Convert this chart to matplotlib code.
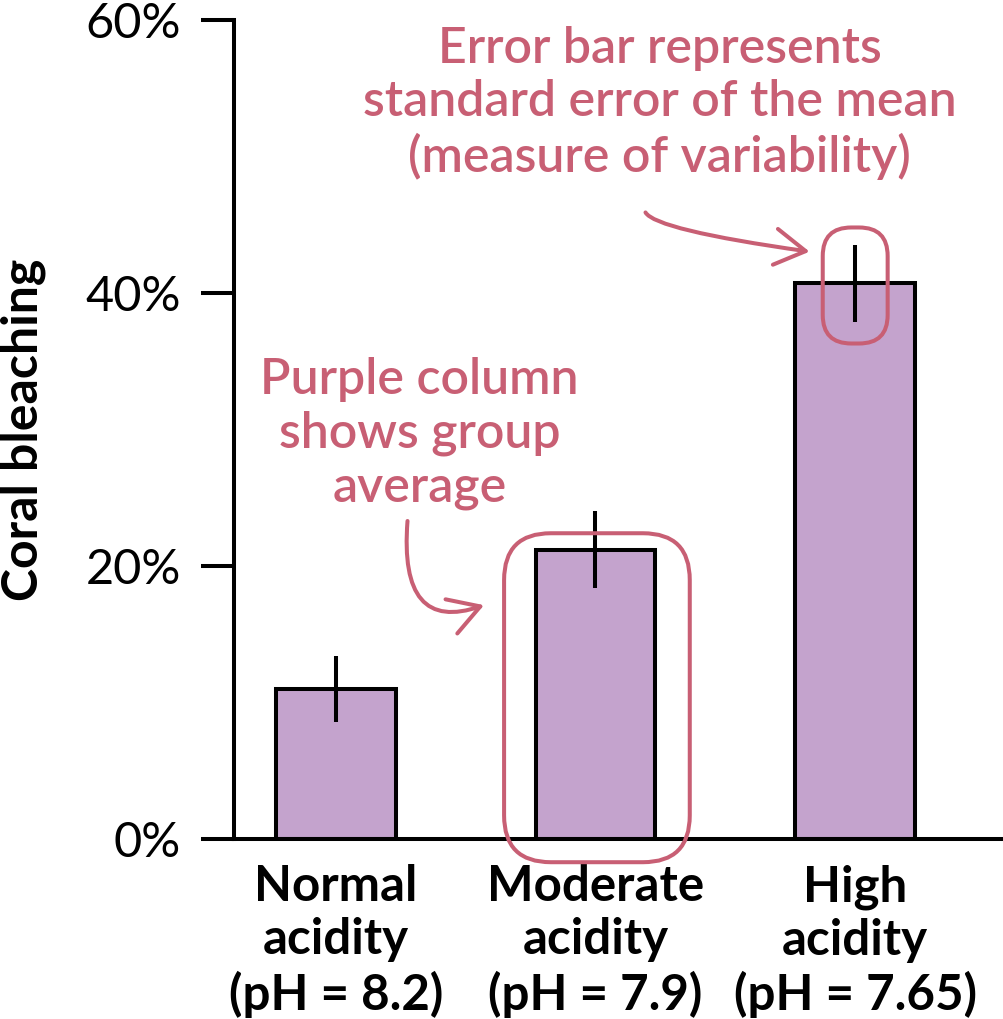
import numpy as np
import matplotlib
matplotlib.use("Agg")
import matplotlib.pyplot as plt
from matplotlib.patches import FancyBboxPatch, FancyArrowPatch

# donnees
groupes = ["Normal\nacidity\n(pH = 8.2)", "Moderate\nacidity\n(pH = 7.9)", "High\nacidity\n(pH = 7.65)"]
blanchiment = [11.0, 21.2, 40.7]   # %
erreur = [2.4, 2.8, 2.8]           # erreur standard, %
yticks = [0, 20, 40, 60]
ylabels = ["0%", "20%", "40%", "60%"]

violet = "#C4A3CD"
rose = "#C85F74"

plt.rcParams['font.family'] = ['Lato', 'DejaVu Sans']

W, H = 1004, 1019
fig = plt.figure(figsize=(W/100, H/100), dpi=100)
ax = fig.add_axes([234/W, (H-839)/H, (W-234)/W, (839-20)/H])

x = np.arange(len(groupes))
ax.bar(x, blanchiment, width=0.46, color=violet, edgecolor="black", linewidth=2.9, zorder=2)
ax.errorbar(x, blanchiment, yerr=erreur, fmt="none", ecolor="black", elinewidth=2.9, capsize=0, zorder=3)

xmin, xmax = -0.392, 2.573
ax.set_xlim(xmin, xmax)
ax.set_ylim(0, 60)
ax.spines['top'].set_visible(False)
ax.spines['right'].set_visible(False)
for s in ['left', 'bottom']:
    ax.spines[s].set_linewidth(2.9)
ax.set_yticks(yticks, ylabels)
ax.set_xticks(x, groupes)
ax.tick_params(axis='y', length=24, width=2.9, pad=14, labelsize=35)
ax.tick_params(axis='x', length=0, pad=18, labelsize=35.5)
for lab in ax.get_xticklabels():
    lab.set_fontweight('bold')
    lab.set_linespacing(1.22)
ax.set_ylabel("Coral bleaching", fontsize=36, fontweight='bold')
ax.yaxis.set_label_coords((46-234)/(W-234), 0.5)

# rapport d'aspect pour les coins arrondis
pxx = (W-234)/(xmax-xmin)
pxy = (839-20)/60.
asp = pxx/pxy

# encadrements
i = 1
b1 = FancyBboxPatch((x[i]-0.352, -1.7), 0.715, blanchiment[i]+1.2+1.7,
                    boxstyle="round,pad=0,rounding_size=0.18", mutation_aspect=asp,
                    fill=False, edgecolor=rose, linewidth=2.9, clip_on=False, zorder=4)
ax.add_patch(b1)
i = 2
b2 = FancyBboxPatch((x[i]-0.125, blanchiment[i]-erreur[i]-1.6), 0.25, 2*erreur[i]+2.9,
                    boxstyle="round,pad=0,rounding_size=0.11", mutation_aspect=asp,
                    fill=False, edgecolor=rose, linewidth=2.9, clip_on=False, zorder=4)
ax.add_patch(b2)

# textes
ax.text(1.246, 53.9, "Error bar represents\nstandard error of the mean\n(measure of variability)",
        ha='center', va='center', fontsize=36, fontweight='semibold', color=rose, linespacing=1.22)
ax.text(0.323, 29.7, "Purple column\nshows group\naverage",
        ha='center', va='center', fontsize=36, fontweight='semibold', color=rose, linespacing=1.22)

# fleches
fl1 = FancyArrowPatch((0.277, 23.5), (0.581, 17.2),
                      connectionstyle="angle3,angleA=-95,angleB=20",
                      arrowstyle="->,head_length=1.1,head_width=0.65", mutation_scale=20,
                      color=rose, linewidth=2.9, clip_on=False, zorder=4)
ax.add_patch(fl1)
fl2 = FancyArrowPatch((1.19, 46.1), (1.835, 43.0),
                      connectionstyle="angle3,angleA=-95,angleB=-8",
                      arrowstyle="->,head_length=1.1,head_width=0.65", mutation_scale=20,
                      color=rose, linewidth=2.9, clip_on=False, zorder=4)
ax.add_patch(fl2)

fig.savefig("out.png", dpi=100)
